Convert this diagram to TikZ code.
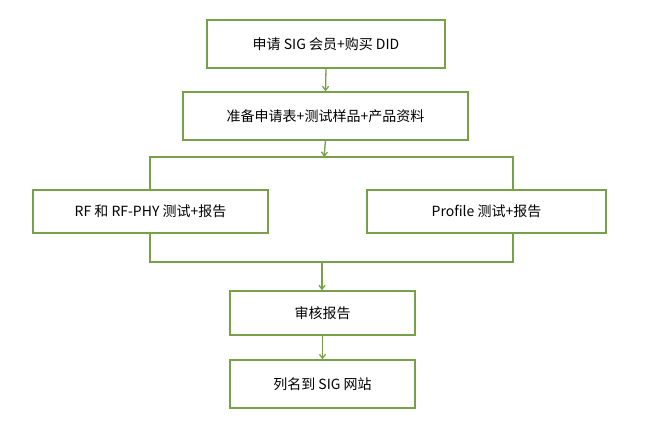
\documentclass[tikz,border=0pt]{standalone}
\usepackage{fontspec}
\setmainfont{Noto Sans CJK SC}
\usetikzlibrary{arrows.meta}
\definecolor{gr}{RGB}{119,160,72}
\begin{document}
\begin{tikzpicture}[x=1pt,y=-1pt,
  box/.style={draw=gr,line width=1.3pt,inner sep=0pt,font=\fontsize{14}{16}\selectfont},
  ln/.style={draw=gr,line width=1.3pt},
  ar/.style={ln,-{Straight Barb[length=4pt,width=6pt]}}]
\useasboundingbox (0,0) rectangle (651,421);
\node[box,minimum width=238pt,minimum height=48pt] (b1) at (326,44) {申请 SIG 会员+购买 DID};
\node[box,minimum width=285pt,minimum height=48pt] (b2) at (325.5,116) {准备申请表+测试样品+产品资料};
\node[box,minimum width=235pt,minimum height=43pt] (b3) at (150.5,211.5) {RF 和 RF-PHY 测试+报告};
\node[box,minimum width=239pt,minimum height=43pt] (b4) at (486.5,211.5) {Profile 测试+报告};
\node[box,minimum width=185pt,minimum height=44pt] (b5) at (322.5,313) {审核报告};
\node[box,minimum width=185pt,minimum height=48pt] (b6) at (322.5,384) {列名到 SIG 网站};
\coordinate (sL) at (150,157); \coordinate (sR) at (513,157);
\coordinate (s) at (324,157);
\coordinate (mL) at (150,262); \coordinate (mR) at (513,262);
\coordinate (m) at (322,262);
\draw[ar] (b1.south) -- (b2.north);
\draw[ar] (b2.south) -- (s);
\draw[ln] (sL|-b3.north) -- (sL) -- (sR) -- (sR|-b4.north);
\draw[ln] (mL|-b3.south) -- (mL) -- (mR) -- (mR|-b4.south);
\draw[ar] (m) -- (m|-b5.north);
\draw[ar] (b5.south) -- (b6.north);
\end{tikzpicture}
\end{document}
